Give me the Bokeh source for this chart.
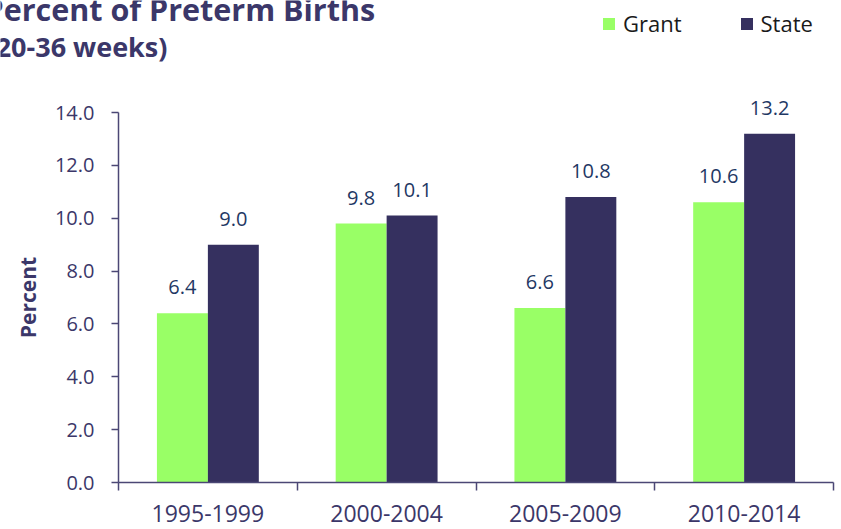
import numpy as np
from bokeh.plotting import figure
from bokeh.models import (ColumnDataSource, Range1d, LinearAxis,
                          FixedTicker, PrintfTickFormatter, LabelSet, Label, Legend, LegendItem)
from bokeh.core.properties import value
from bokeh.transform import dodge
from bokeh.embed import file_html
from bokeh.resources import INLINE

periods = ["1995-1999", "2000-2004", "2005-2009", "2010-2014"]
grant = [6.4, 9.8, 6.6, 10.6]
state = [9.0, 10.1, 10.8, 13.2]
series_names = ["Grant", "State"]
y_ticks = [0, 2, 4, 6, 8, 10, 12, 14]
title_lines = ["Percent of Preterm Births", "(20-36 weeks)"]
y_label = "Percent"

GREEN = "#99FF66"
NAVY = "#35305F"
LABEL_BLUE = "#1F3864"
AXIS = "#4B4775"
TEXT = "#3B3769"
FONT = "Open Sans"

W, H = 841, 529
# pixel placement of the plotting area inside the canvas
PX_L, PX_R, PX_T, PX_B = 118, 833, 112, 482
Y_MAX = y_ticks[-1]

n = len(periods)
centers = np.arange(n) + 0.5
bounds = list(range(n + 1))

# ranges chosen so that the data area maps to the pixel box above, while the frame fills the canvas
sx = (PX_R - PX_L) / n
sy = (PX_B - PX_T) / Y_MAX
x_range = Range1d(-PX_L / sx, n + (W - PX_R) / sx)
y_range = Range1d(-(H - PX_B) / sy, Y_MAX + PX_T / sy)

src = ColumnDataSource(dict(
    xc=centers, grant=grant, state=state,
    grant_txt=[f"{v:.1f}" for v in grant],
    state_txt=[f"{v:.1f}" for v in state],
))

p = figure(width=W, height=H, x_range=x_range, y_range=y_range,
           output_backend="svg", toolbar_location=None,
           x_axis_location=None, y_axis_location=None,
           min_border=0)
p.outline_line_color = None
p.grid.visible = False

# x axis line with ticks at category boundaries
bax = LinearAxis(ticker=FixedTicker(ticks=bounds), fixed_location=0, bounds=(0, n))
bax.major_label_overrides = {b: "" for b in bounds}
bax.major_label_text_font_size = "1px"
bax.major_label_standoff = 0
bax.major_tick_in = 0
bax.major_tick_out = 8
bax.minor_tick_out = 0
bax.minor_tick_in = 0
bax.axis_line_color = AXIS
bax.axis_line_width = 1.5
bax.major_tick_line_color = AXIS
bax.major_tick_line_width = 1.5
p.add_layout(bax, "below")

# category labels centred in each slot
cax = LinearAxis(ticker=FixedTicker(ticks=list(centers)), fixed_location=0, bounds=(0, n))
cax.major_label_overrides = {float(c): lab for c, lab in zip(centers, periods)}
cax.axis_line_color = None
cax.major_tick_line_color = None
cax.major_tick_out = 0
cax.major_tick_in = 0
cax.minor_tick_out = 0
cax.minor_tick_in = 0
cax.major_label_standoff = 22
cax.major_label_text_font = FONT
cax.major_label_text_font_size = "23px"
cax.major_label_text_color = TEXT
p.add_layout(cax, "below")

yax = LinearAxis(ticker=FixedTicker(ticks=y_ticks), formatter=PrintfTickFormatter(format="%.1f"),
                 fixed_location=0, bounds=(0, Y_MAX))
yax.axis_line_color = AXIS
yax.axis_line_width = 1.5
yax.major_tick_line_color = AXIS
yax.major_tick_line_width = 1.5
yax.major_tick_in = 0
yax.major_tick_out = 7
yax.minor_tick_out = 0
yax.minor_tick_in = 0
yax.major_label_standoff = 17
yax.major_label_text_font = FONT
yax.major_label_text_font_size = "20px"
yax.major_label_text_color = TEXT
yax.axis_label = y_label
yax.axis_label_text_font = FONT
yax.axis_label_text_font_size = "21px"
yax.axis_label_text_font_style = "bold"
yax.axis_label_text_color = TEXT
yax.axis_label_standoff = 10
p.add_layout(yax, "left")

bw = 0.285
off = bw / 2
r_g = p.vbar(x=dodge("xc", -off), top="grant", width=bw, bottom=0,
             source=src, fill_color=GREEN, line_color=None)
r_s = p.vbar(x=dodge("xc", off), top="state", width=bw, bottom=0,
             source=src, fill_color=NAVY, line_color=None)

for col, d in (("grant", -off), ("state", off)):
    ls = LabelSet(x=dodge("xc", d), y=col, text=col + "_txt", source=src,
                  y_offset=19, text_align="center", text_baseline="alphabetic",
                  text_font=value(FONT), text_font_size="20px", text_color=LABEL_BLUE)
    p.add_layout(ls)

legend = Legend(items=[LegendItem(label=series_names[0], renderers=[r_g]),
                       LegendItem(label=series_names[1], renderers=[r_s])],
                location=(601, H - 38), orientation="horizontal",
                glyph_width=15, glyph_height=15, label_standoff=7, spacing=57,
                padding=0, margin=0, border_line_color=None, background_fill_alpha=0,
                label_text_font=FONT, label_text_font_size="22px", label_text_color="#1A1A1A")
p.add_layout(legend, "center")

# title lines (screen units measured from the canvas bottom-left, frame fills canvas)
t1 = Label(x=-16, y=H - 8, x_units="screen", y_units="screen", text=title_lines[0],
           text_font=FONT, text_font_size="30.5px", text_font_style="bold", text_color=TEXT,
           text_baseline="alphabetic", text_align="left")
t2 = Label(x=-14, y=H - 46, x_units="screen", y_units="screen", text=title_lines[1],
           text_font=FONT, text_font_size="27px", text_font_style="bold", text_color=TEXT,
           text_baseline="alphabetic", text_align="left")
p.add_layout(t1)
p.add_layout(t2)

open("out.html", "w").write(file_html(p, INLINE))
